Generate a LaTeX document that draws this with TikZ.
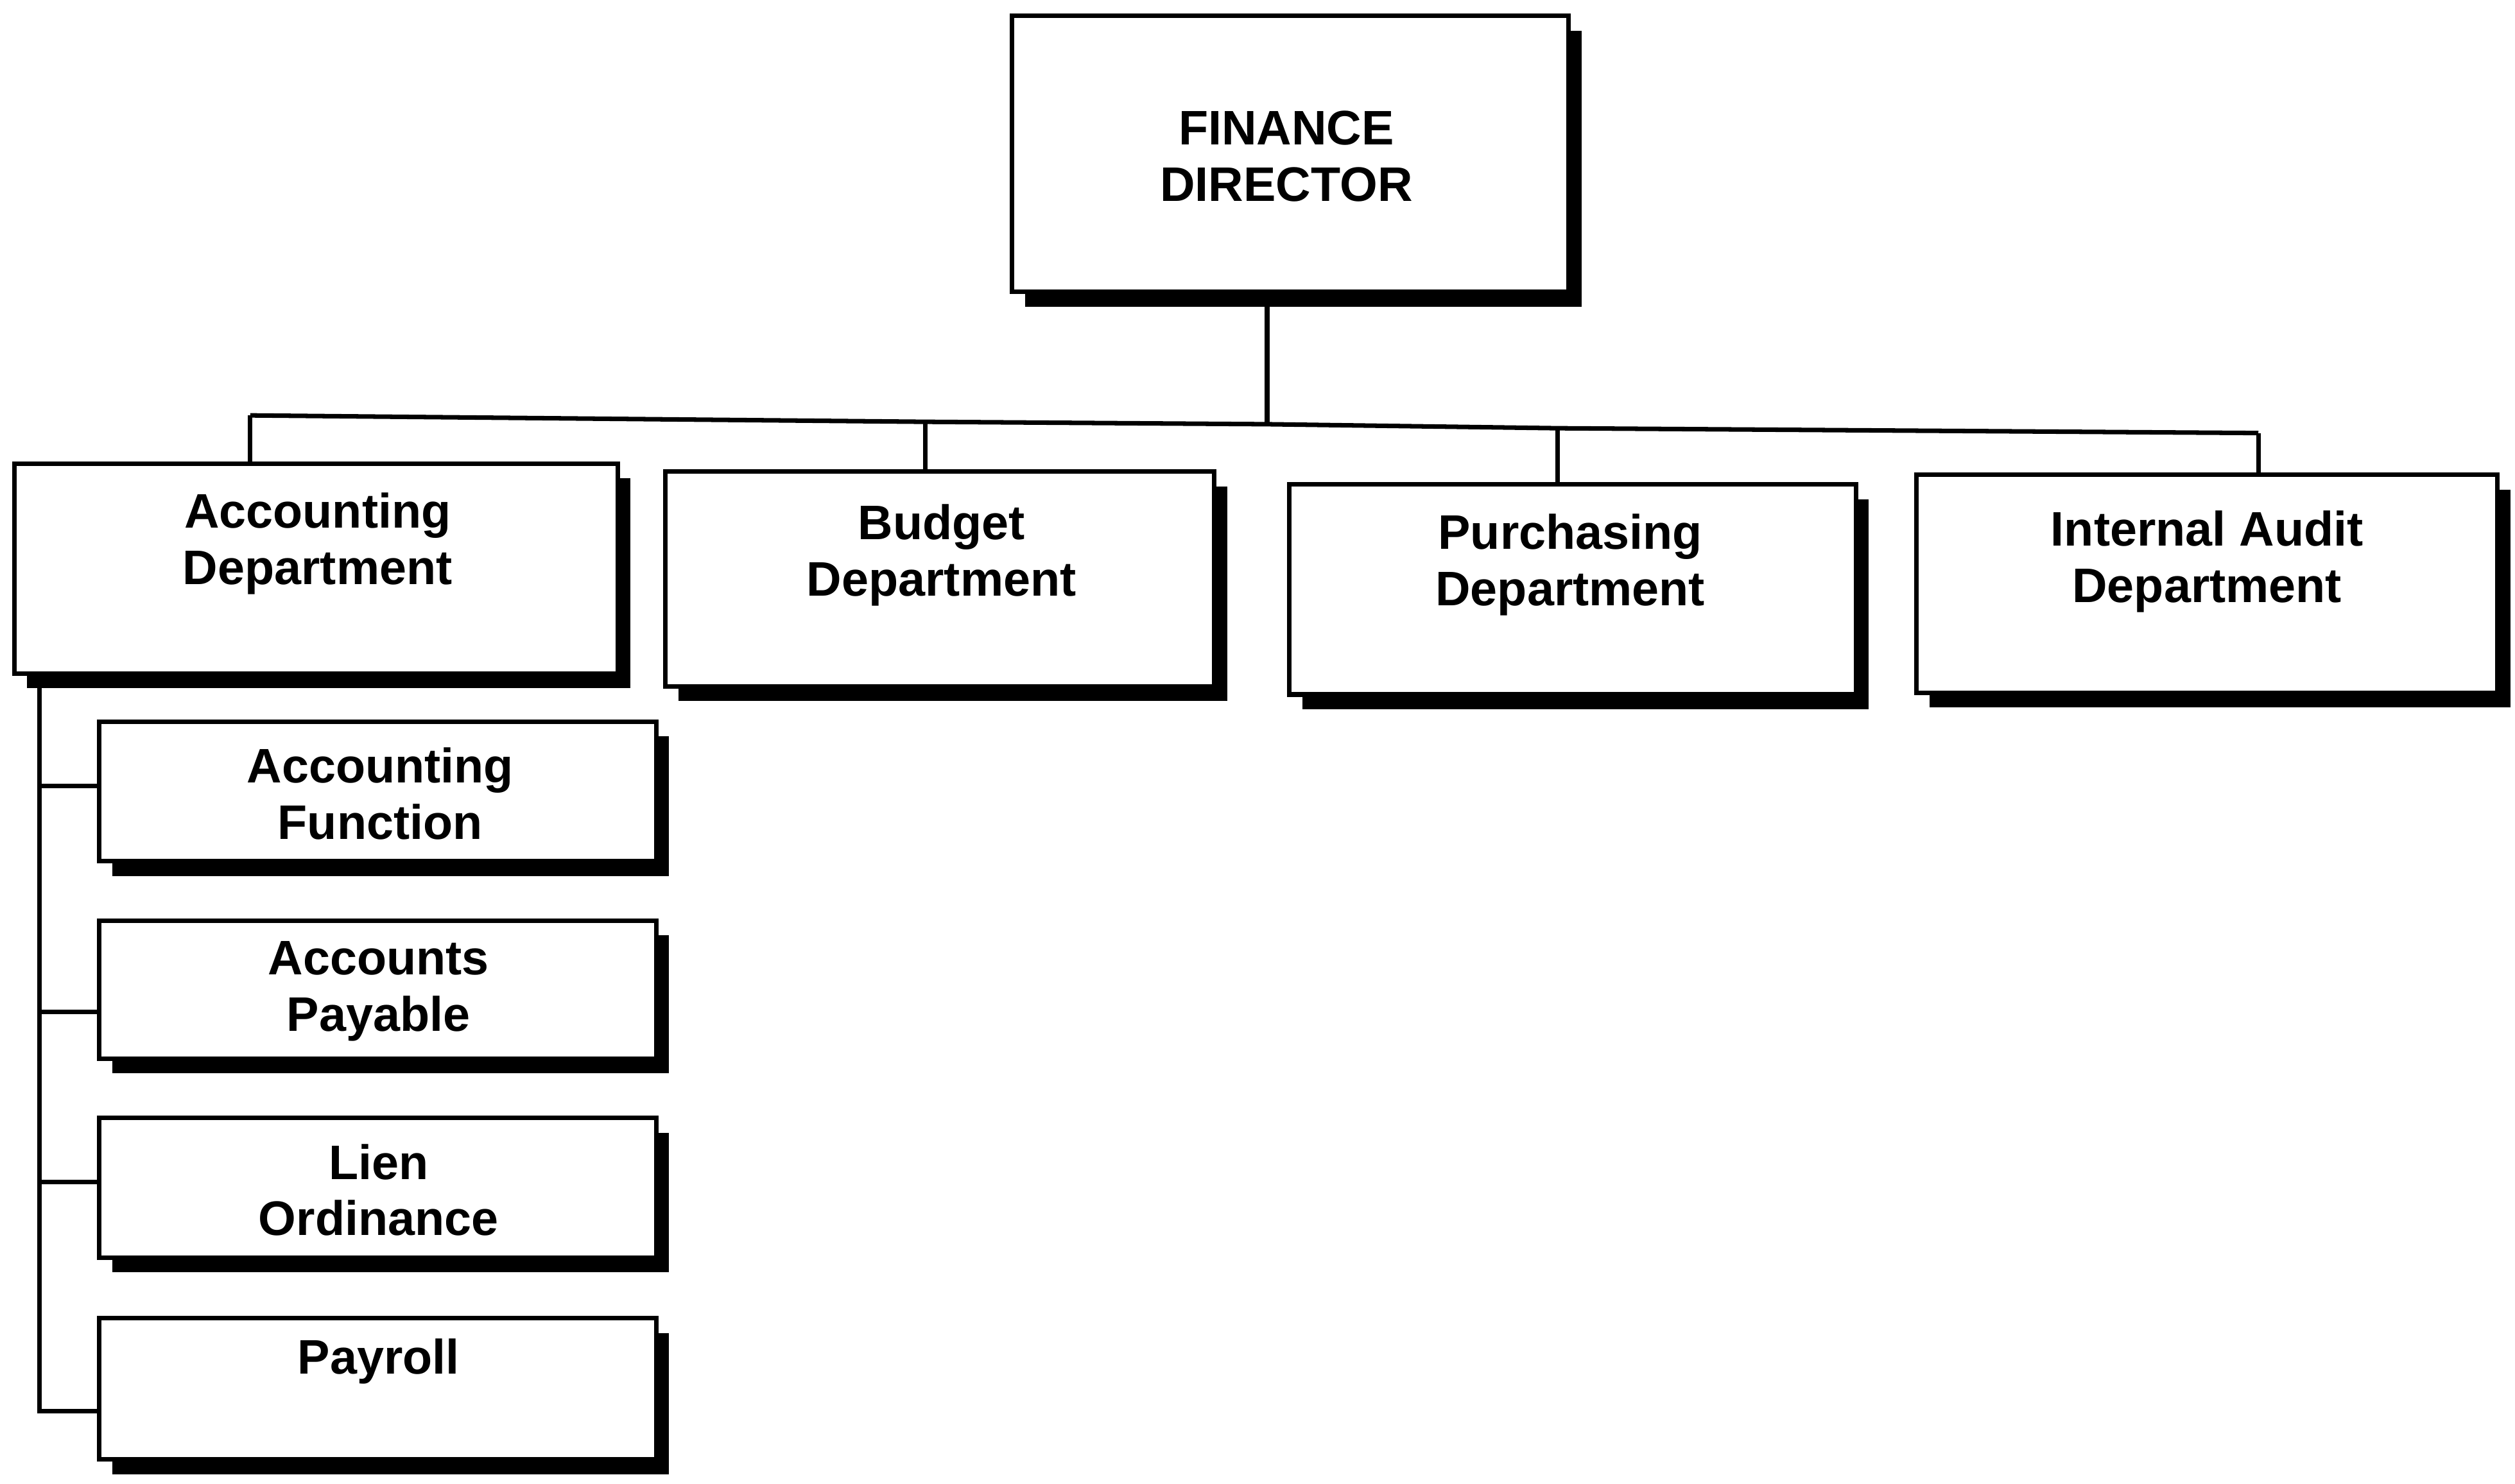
\documentclass[tikz,border=0pt]{standalone}
\usepackage{fontspec}
\setmainfont{Liberation Sans}
\usetikzlibrary{shadows}
\begin{document}
\begin{tikzpicture}[x=0.025cm,y=-0.025cm,
  box/.style={draw=black, line width=2pt, fill=white, inner sep=0pt,
    general shadow={fill=black, shadow xshift=0.2cm, shadow yshift=-0.23cm}},
  lbl/.style={align=center, inner sep=0pt, font=\bfseries\fontsize{21.5}{25}\selectfont},
  conn/.style={draw=black, line width=2pt}]
\useasboundingbox (0,0) rectangle (1568,925);
\fill[white] (0,0) rectangle (1568,925);
% boxes
\node[box, minimum width=8.675cm, minimum height=4.3cm] (fin) at (804.5,96) {};
\node[box, minimum width=9.4cm, minimum height=3.275cm] (acc) at (197,354.5) {};
\node[box, minimum width=8.55cm, minimum height=3.35cm] (bud) at (586,361) {};
\node[box, minimum width=8.825cm, minimum height=3.275cm] (pur) at (980.5,367.5) {};
\node[box, minimum width=9.05cm, minimum height=3.4cm] (aud) at (1376,364) {};
\node[box, minimum width=8.675cm, minimum height=2.175cm] (af) at (235.5,493.5) {};
\node[box, minimum width=8.675cm, minimum height=2.15cm] (ap) at (235.5,617) {};
\node[box, minimum width=8.675cm, minimum height=2.175cm] (lo) at (235.5,740.5) {};
\node[box, minimum width=8.675cm, minimum height=2.2cm] (pay) at (235.5,866) {};
% texts
\node[lbl] (tfin) at (802,97.5) {FINANCE\\DIRECTOR};
\node[lbl] (tacc) at (198,339) {Accounting\\Department};
\node[lbl] (tbud) at (587,346) {Budget\\Department};
\node[lbl] (tpur) at (979,352) {Purchasing\\Department};
\node[lbl] (taud) at (1376,350) {Internal Audit\\Department};
\node[lbl] (taf) at (237,495) {Accounting\\Function};
\node[lbl] (tap) at (236,618) {Accounts\\Payable};
\node[lbl] (tlo) at (236,742) {Lien\\Ordinance};
\node[lbl] (tpay) at (236,849) {Payroll};
% bus
\coordinate (dA) at (156,259);
\coordinate (dB) at (577,263);
\coordinate (dF) at (790,264.5);
\coordinate (dC) at (971,267);
\coordinate (dD) at (1408,270);
\draw[conn] (fin.south -| dF) -- (dF);
\draw[conn] (dA) -- (dB) -- (dF) -- (dC) -- (dD);
\draw[conn] (dA) -- (dA |- acc.north);
\draw[conn] (dB) -- (dB |- bud.north);
\draw[conn] (dC) -- (dC |- pur.north);
\draw[conn] (dD) -- (dD |- aud.north);
% spine
\coordinate (sp) at ([xshift=0.425cm]acc.south west);
\coordinate (tk1) at ([yshift=0.09cm]af.west);
\coordinate (tk2) at ([yshift=-0.35cm]ap.west);
\coordinate (tk3) at ([yshift=0.09cm]lo.west);
\coordinate (tk4) at ([yshift=-0.35cm]pay.west);
\draw[conn] (sp) -- (sp |- tk4) -- (tk4);
\draw[conn] (sp |- tk1) -- (tk1);
\draw[conn] (sp |- tk2) -- (tk2);
\draw[conn] (sp |- tk3) -- (tk3);
\end{tikzpicture}
\end{document}
